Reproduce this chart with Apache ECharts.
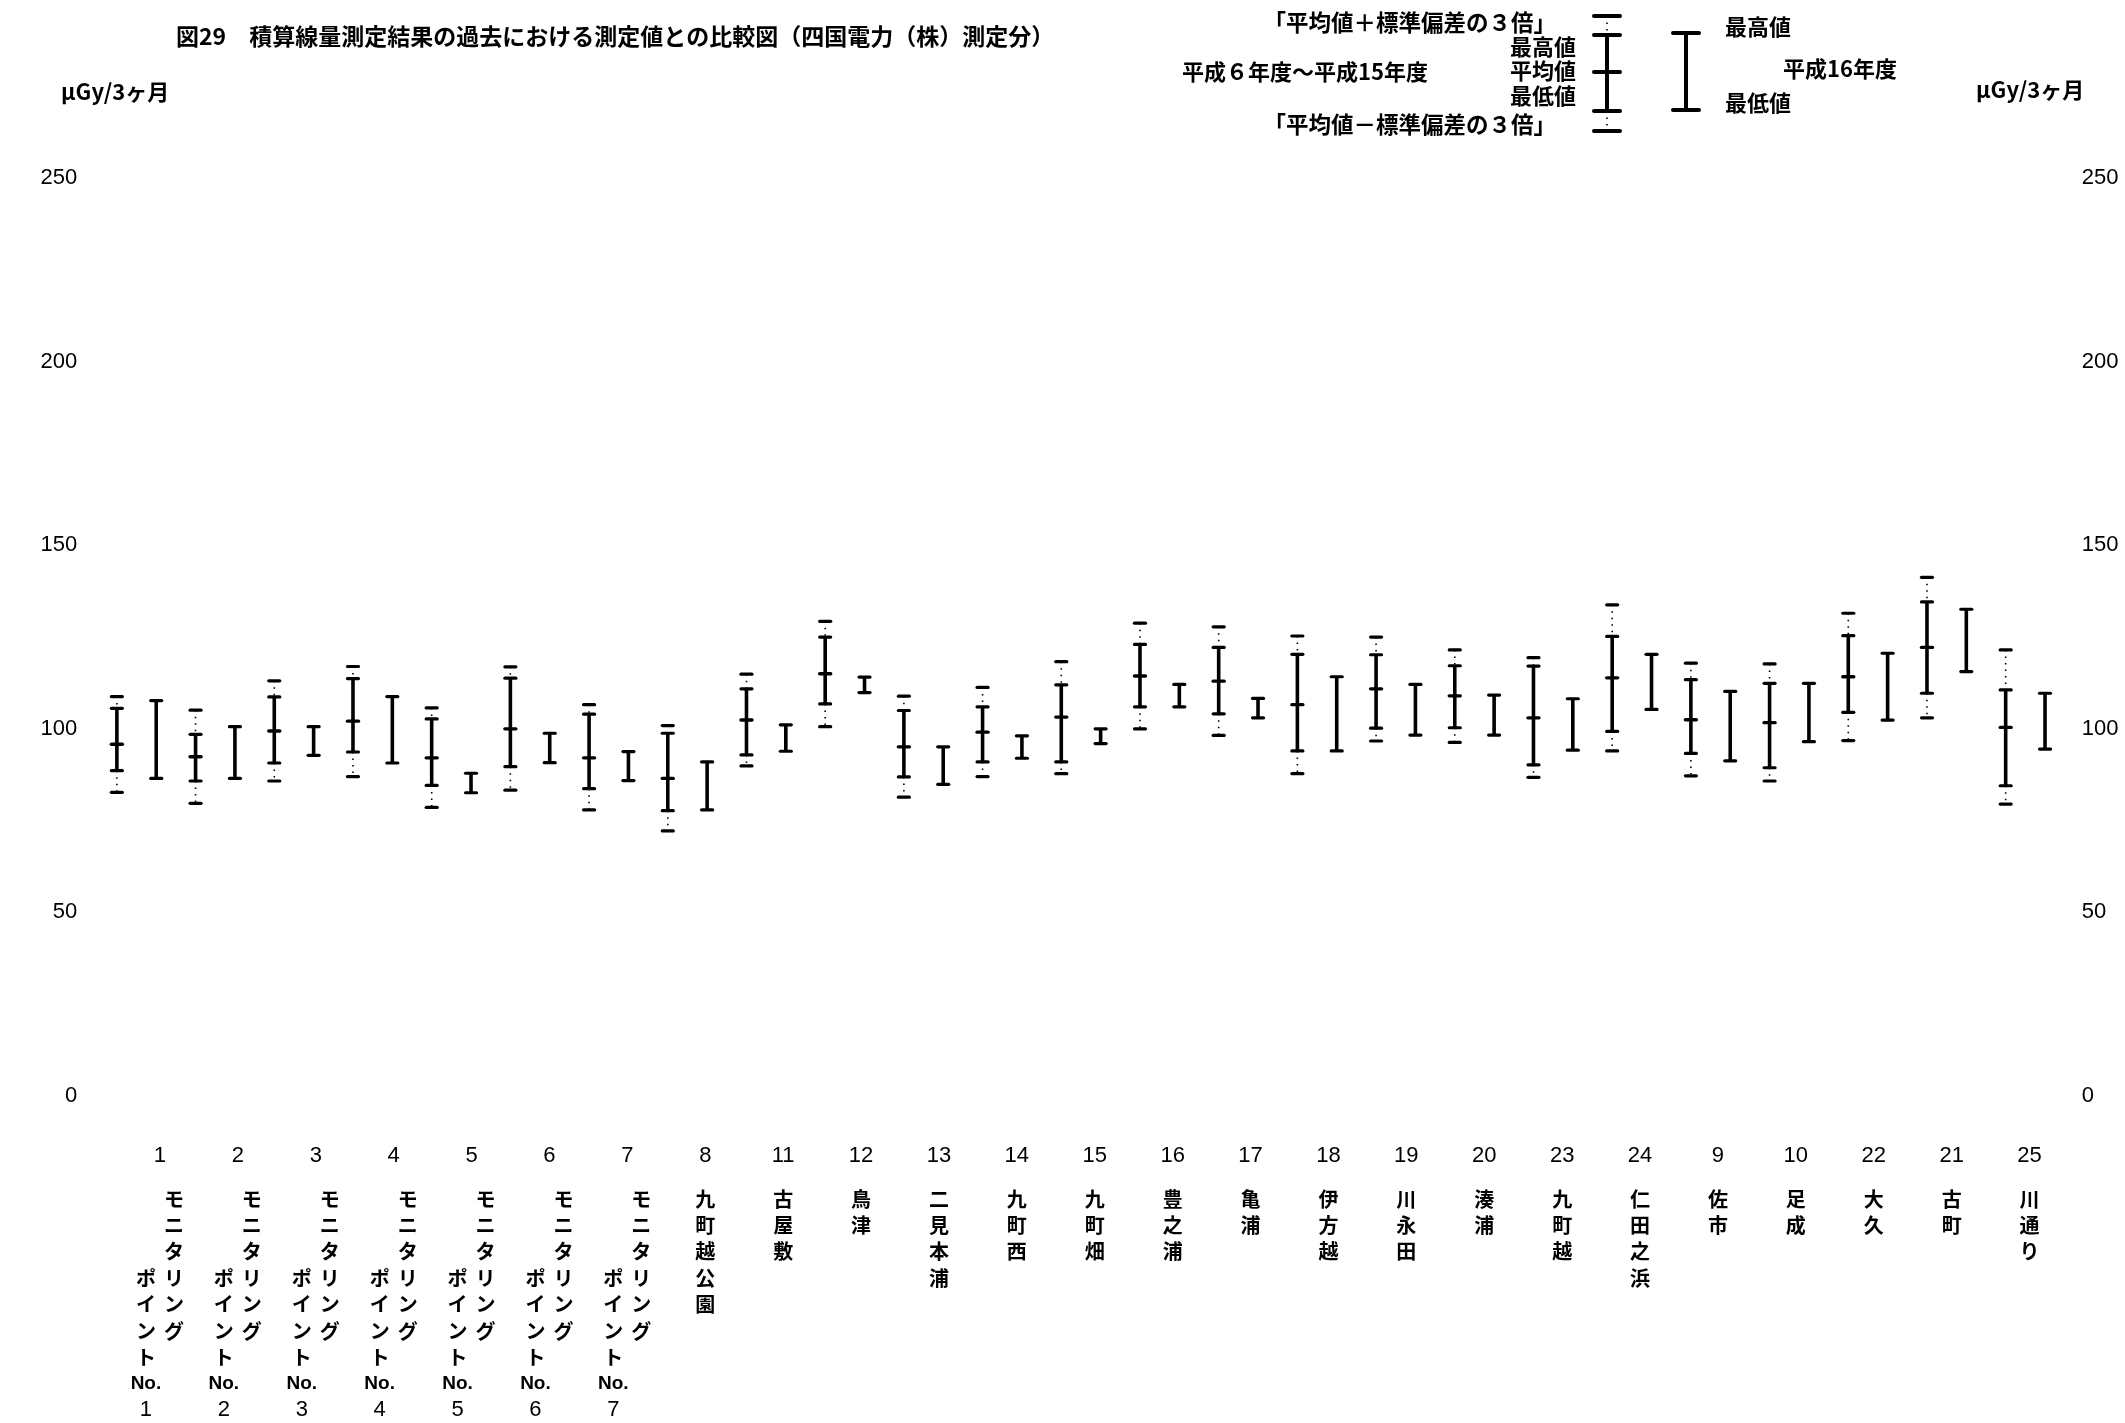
<!DOCTYPE html>
<html>
<head>
<meta charset="utf-8">
<script src="https://cdn.jsdelivr.net/npm/echarts@6/dist/echarts.min.js"></script>
<style>
html,body{margin:0;padding:0;background:#fff;}
#chart{width:2125px;height:1423px;}
</style>
</head>
<body>
<div id="chart"></div>
<script>
// ---- data (μGy/3ヶ月) ----
const stationNos = ['1','2','3','4','5','6','7','8','11','12','13','14','15','16','17','18','19','20','23','24','9','10','22','21','25'];
const stationNames = [
  'モニタリングポイントNo.1','モニタリングポイントNo.2','モニタリングポイントNo.3','モニタリングポイントNo.4',
  'モニタリングポイントNo.5','モニタリングポイントNo.6','モニタリングポイントNo.7',
  '九町越公園','古屋敷','鳥津','二見本浦','九町西','九町畑','豊之浦','亀浦','伊方越','川永田','湊浦',
  '九町越','仁田之浜','佐市','足成','大久','古町','川通り'
];
// 平成6年度～平成15年度
const histUpper3 = [108.7,105.0,113.0,116.9,105.6,116.8,106.5,100.8,114.8,129.2,108.8,111.2,118.2,128.7,127.7,125.2,124.9,121.4,119.3,133.7,117.8,117.6,131.4,141.2,121.4];
const histMax    = [105.5, 98.4,108.6,113.6,102.6,113.7,103.9, 98.7,110.8,124.9,104.9,105.9,111.9,122.9,122.1,120.2,120.1,117.1,117.0,125.1,113.3,112.3,125.3,134.5,110.5];
const histMean   = [ 95.7, 92.3, 99.3,102.0, 92.0, 99.9, 92.0, 86.4,102.3,114.9, 95.0, 99.0,103.1,114.3,112.9,106.5,110.8,108.9,102.9,113.8,102.4,101.6,114.1,122.1,100.3];
const histMin    = [ 88.5, 85.7, 90.6, 93.6, 84.5, 89.6, 83.6, 77.6, 92.8,106.7, 86.8, 90.9, 90.9,105.9,104.0, 93.9,100.1,100.2, 90.1, 99.2, 93.2, 89.3,104.4,109.6, 84.4];
const histLower3 = [ 82.6, 79.6, 85.7, 86.9, 78.5, 83.2, 77.8, 72.1, 89.8,100.5, 81.3, 86.9, 87.7, 99.9, 98.1, 87.7, 96.6, 96.2, 86.7, 93.9, 87.1, 85.7, 96.7,102.9, 79.4];
// 平成16年度
const h16Max = [107.6,100.5,100.5,108.7, 87.8, 98.7, 93.7, 90.9,101.0,114.0, 95.0, 98.0, 99.9,112.0,108.2,114.1,112.0,109.1,108.1,120.2,110.1,112.3,120.5,132.5,109.6];
const h16Min = [ 86.4, 86.4, 92.7, 90.6, 82.5, 90.7, 85.8, 77.8, 93.8,109.8, 84.8, 91.9, 95.9,105.9,102.9, 93.9, 98.2, 98.2, 94.1,105.2, 91.2, 96.4,102.3,115.5, 94.4];
const yMin = 0, yMax = 250, yStep = 50;
const titleText = '図29　積算線量測定結果の過去における測定値との比較図（四国電力（株）測定分）';
const unitText = 'μGy/3ヶ月';

// ---- styles ----
const INK = '#000';
const JP = "'Noto Sans CJK JP', sans-serif";
const NUM = "'Liberation Sans', Arial, sans-serif";
const NARROW = "'Liberation Sans Narrow', 'Liberation Sans', sans-serif";

function capLine(x, y, w, lw) {
  return { type: 'line', shape: { x1: x - w / 2, y1: y, x2: x + w / 2, y2: y },
           style: { stroke: INK, lineWidth: lw, lineCap: 'round' } };
}
function vLine(x, y1, y2, lw, dash) {
  const st = { stroke: INK, lineWidth: lw };
  if (dash) st.lineDash = dash;
  return { type: 'line', shape: { x1: x, y1: y1, x2: x, y2: y2 }, style: st };
}

function renderHist(params, api) {
  const i = api.value(0);
  const bw = api.size([1, 0])[0];
  const x = api.coord([i, 0])[0] - bw * 0.25;
  const y = k => api.coord([i, api.value(k)])[1];
  const yU3 = y(1), yMx = y(2), yMe = y(3), yMn = y(4), yL3 = y(5);
  return { type: 'group', children: [
    vLine(x, yU3, yMx, 1.6, [1.5, 5]),
    vLine(x, yMn, yL3, 1.6, [1.5, 5]),
    vLine(x, yMx, yMn, 3.6),
    capLine(x, yU3, 11, 3.2), capLine(x, yMx, 11, 3.2), capLine(x, yMe, 11, 3.4),
    capLine(x, yMn, 11, 3.2), capLine(x, yL3, 11, 3.2)
  ]};
}
function renderH16(params, api) {
  const i = api.value(0);
  const bw = api.size([1, 0])[0];
  const x = api.coord([i, 0])[0] + bw * 0.25;
  const yTop = api.coord([i, api.value(1)])[1];
  const yBot = api.coord([i, api.value(2)])[1];
  return { type: 'group', children: [
    vLine(x, yTop, yBot, 3.6),
    capLine(x, yTop, 11, 3.2), capLine(x, yBot, 11, 3.2)
  ]};
}

function verticalLabel(no, name) {
  const lines = ['{n|' + no + '}'];
  const m = name.match(/^(モニタリング)(ポイント)(No\.)(\d+)$/);
  if (m) {
    const right = m[1].split('');
    const left = m[2].split('').concat([m[3], m[4]]);
    const off = 3;
    const rows = Math.max(right.length, left.length + off);
    for (let r = 0; r < rows; r++) {
      const rc = right[r] || '　';
      const lc = (r - off >= 0 && left[r - off]) ? left[r - off] : '　';
      const lTok = lc === 'No.' ? '{c|No.}' : (/^\d+$/.test(lc) ? '{d|' + lc + '}' : '{a|' + lc + '}');
      lines.push(lTok + '{a|' + rc + '}');
    }
  } else {
    for (const ch of name) lines.push('{s|' + ch + '}');
  }
  return lines.join('\n');
}

const histData = stationNos.map((s, i) => [i, histUpper3[i], histMax[i], histMean[i], histMin[i], histLower3[i]]);
const h16Data = stationNos.map((s, i) => [i, h16Max[i], h16Min[i]]);

const GRID_TOP = 178, GRID_BOTTOM = 327.5;
const yAxisCommon = {
  type: 'value', min: yMin, max: yMax, interval: yStep,
  axisLine: { show: false }, axisTick: { show: false }, splitLine: { show: false }
};

const chart = echarts.init(document.getElementById('chart'), null, { renderer: 'canvas' });
chart.setOption({
  backgroundColor: '#fff',
  animation: false,
  title: {
    text: titleText, left: 176, top: 25, padding: 0,
    textStyle: { fontFamily: JP, fontSize: 23, fontWeight: 'bold', color: INK }
  },
  grid: [
    { left: 97.2, right: 60.3, top: GRID_TOP, bottom: GRID_BOTTOM },
    { left: 121, right: 56.5, top: GRID_TOP, bottom: GRID_BOTTOM }
  ],
  xAxis: [
    { type: 'category', gridIndex: 0, data: stationNos, show: false },
    { type: 'category', gridIndex: 1, data: stationNos,
      axisLine: { show: false }, axisTick: { show: false },
      axisLabel: {
        interval: 0, margin: 30.7, align: 'center', verticalAlign: 'top', color: INK,
        formatter: (v, idx) => verticalLabel(v, stationNames[idx]),
        rich: {
          n: { fontFamily: NARROW, fontSize: 22, lineHeight: 59.6, align: 'center', color: INK },
          a: { fontFamily: JP, fontSize: 20, fontWeight: 'bold', lineHeight: 26.4, width: 28, align: 'center', color: INK },
          c: { fontFamily: NARROW, fontSize: 19, fontWeight: 'bold', lineHeight: 26.4, width: 28, align: 'center', color: INK },
          d: { fontFamily: NARROW, fontSize: 22, lineHeight: 26.4, width: 28, align: 'center', color: INK },
          s: { fontFamily: JP, fontSize: 20, fontWeight: 'bold', lineHeight: 26.4, align: 'center', color: INK }
        }
      }
    }
  ],
  yAxis: [
    Object.assign({}, yAxisCommon, { gridIndex: 0, position: 'left',
      axisLabel: { margin: 20, fontFamily: NUM, fontSize: 22, color: INK } }),
    Object.assign({}, yAxisCommon, { gridIndex: 0, position: 'right',
      axisLabel: { margin: 17, fontFamily: NUM, fontSize: 22, color: INK } }),
    Object.assign({}, yAxisCommon, { gridIndex: 1, show: false })
  ],
  series: [
    { name: '平成６年度～平成15年度', type: 'custom', xAxisIndex: 0, yAxisIndex: 0,
      renderItem: renderHist, data: histData, encode: { x: 0, y: [1, 2, 3, 4, 5] } },
    { name: '平成16年度', type: 'custom', xAxisIndex: 0, yAxisIndex: 0,
      renderItem: renderH16, data: h16Data, encode: { x: 0, y: [1, 2] } }
  ],
  graphic: [
    // units
    { type: 'text', x: 61, y: 92, style: { text: unitText, font: 'bold 22px ' + JP, fill: INK, align: 'left', verticalAlign: 'middle' } },
    { type: 'text', x: 1976, y: 90, style: { text: unitText, font: 'bold 22px ' + JP, fill: INK, align: 'left', verticalAlign: 'middle' } },
    // legend: historical
    { type: 'line', shape: { x1: 1607, y1: 16, x2: 1607, y2: 35 }, style: { stroke: INK, lineWidth: 1.6, lineDash: [1.5, 5] } },
    { type: 'line', shape: { x1: 1607, y1: 111, x2: 1607, y2: 131 }, style: { stroke: INK, lineWidth: 1.6, lineDash: [1.5, 5] } },
    { type: 'line', shape: { x1: 1607, y1: 35, x2: 1607, y2: 111 }, style: { stroke: INK, lineWidth: 4 } },
    { type: 'line', shape: { x1: 1594, y1: 16, x2: 1620, y2: 16 }, style: { stroke: INK, lineWidth: 4, lineCap: 'round' } },
    { type: 'line', shape: { x1: 1594, y1: 35, x2: 1620, y2: 35 }, style: { stroke: INK, lineWidth: 4, lineCap: 'round' } },
    { type: 'line', shape: { x1: 1594, y1: 72, x2: 1620, y2: 72 }, style: { stroke: INK, lineWidth: 4, lineCap: 'round' } },
    { type: 'line', shape: { x1: 1594, y1: 111, x2: 1620, y2: 111 }, style: { stroke: INK, lineWidth: 4, lineCap: 'round' } },
    { type: 'line', shape: { x1: 1594, y1: 131, x2: 1620, y2: 131 }, style: { stroke: INK, lineWidth: 4, lineCap: 'round' } },
    // legend: H16
    { type: 'line', shape: { x1: 1686, y1: 33, x2: 1686, y2: 110 }, style: { stroke: INK, lineWidth: 4 } },
    { type: 'line', shape: { x1: 1673, y1: 33, x2: 1699, y2: 33 }, style: { stroke: INK, lineWidth: 4, lineCap: 'round' } },
    { type: 'line', shape: { x1: 1673, y1: 110, x2: 1699, y2: 110 }, style: { stroke: INK, lineWidth: 4, lineCap: 'round' } },
    // legend texts
    { type: 'text', x: 1556, y: 22, style: { text: '「平均値＋標準偏差の３倍」', font: 'bold 22.5px ' + JP, fill: INK, align: 'right', verticalAlign: 'middle' } },
    { type: 'text', x: 1576, y: 47, style: { text: '最高値', font: 'bold 22px ' + JP, fill: INK, align: 'right', verticalAlign: 'middle' } },
    { type: 'text', x: 1576, y: 71, style: { text: '平均値', font: 'bold 22px ' + JP, fill: INK, align: 'right', verticalAlign: 'middle' } },
    { type: 'text', x: 1576, y: 96, style: { text: '最低値', font: 'bold 22px ' + JP, fill: INK, align: 'right', verticalAlign: 'middle' } },
    { type: 'text', x: 1556, y: 124, style: { text: '「平均値－標準偏差の３倍」', font: 'bold 22.5px ' + JP, fill: INK, align: 'right', verticalAlign: 'middle' } },
    { type: 'text', x: 1182, y: 72, style: { text: '平成６年度～平成15年度', font: 'bold 22px ' + JP, fill: INK, align: 'left', verticalAlign: 'middle' } },
    { type: 'text', x: 1725, y: 27, style: { text: '最高値', font: 'bold 22px ' + JP, fill: INK, align: 'left', verticalAlign: 'middle' } },
    { type: 'text', x: 1783, y: 69, style: { text: '平成16年度', font: 'bold 22px ' + JP, fill: INK, align: 'left', verticalAlign: 'middle' } },
    { type: 'text', x: 1725, y: 103, style: { text: '最低値', font: 'bold 22px ' + JP, fill: INK, align: 'left', verticalAlign: 'middle' } }
  ]
});
</script>
</body>
</html>
